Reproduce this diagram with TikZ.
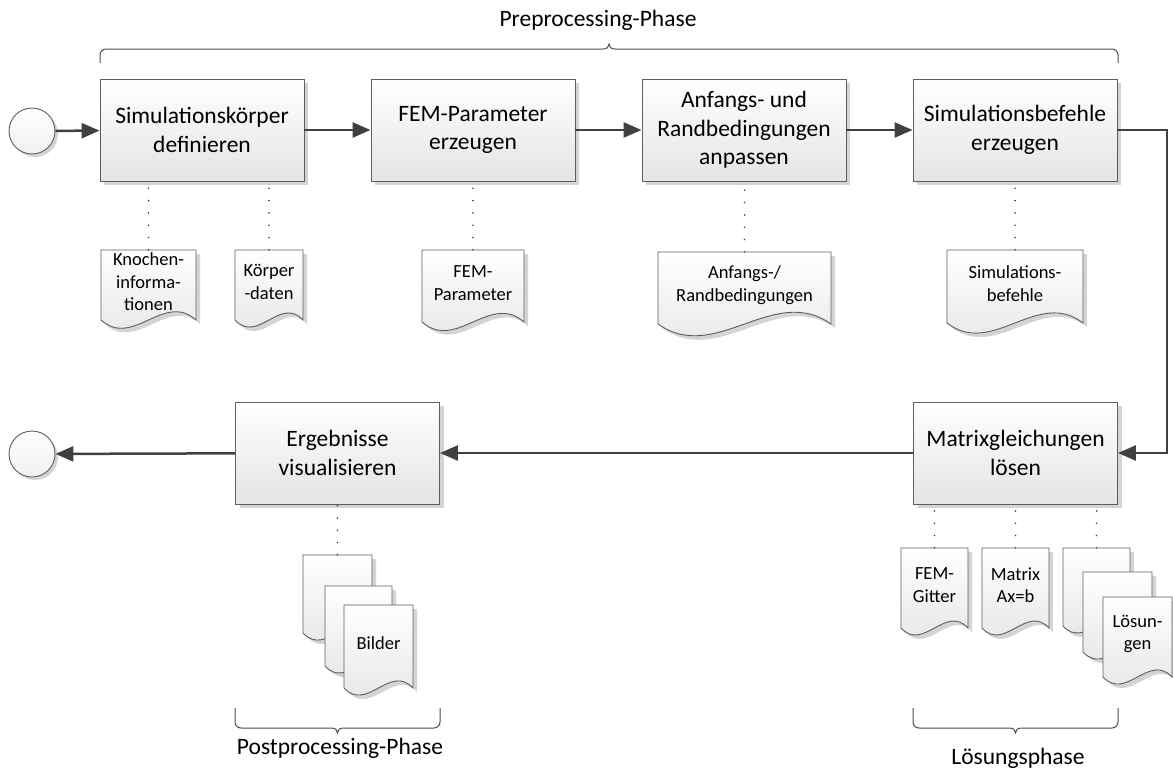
\documentclass[tikz,border=0pt]{standalone}
\usepackage{fontspec}
\setmainfont{Carlito}
\usetikzlibrary{arrows.meta,shadows,calc}
\definecolor{arrowcol}{HTML}{404040}
\definecolor{edgecol}{HTML}{5E5E5E}
\definecolor{shadowcol}{HTML}{D4D4D4}
\definecolor{fillbottom}{HTML}{E4E4E4}
\tikzset{
  procbox/.style={draw=edgecol, line width=0.9pt, top color=white, bottom color=fillbottom,
    minimum width=204pt, minimum height=102pt, inner sep=0pt, align=center,
    font=\fontsize{23.5}{28.7}\selectfont,
    drop shadow={shadow xshift=4pt, shadow yshift=-4pt, fill=shadowcol, opacity=1}},
  termcirc/.style={circle, draw=edgecol, line width=0.9pt, top color=white, bottom color=white!94!black,
    minimum size=46pt, inner sep=0pt,
    drop shadow={shadow xshift=3pt, shadow yshift=-3pt, fill=shadowcol, opacity=1}},
  flow/.style={draw=arrowcol, line width=2.5pt, -{Triangle[length=18pt,width=15pt]}},
  dotline/.style={draw=black!75, line width=1.8pt, line cap=round, dash pattern=on 0pt off 12.3pt},
  docbody/.style={draw=edgecol, line width=0.9pt, top color=white, bottom color=fillbottom},
  docshadow/.style={fill=shadowcol},
  doctext/.style={inner sep=0pt, align=center, font=\fontsize{18.5}{22.6}\selectfont},
  bracestyle/.style={draw=black!70, line width=1pt},
  phase/.style={font=\fontsize{23.5}{28.7}\selectfont, inner sep=0pt}
}
\newcommand\docshape[6]{%
  \pgfmathsetmacro\dw{#4-#2}%
  \pgfmathsetmacro\kk{3.46*(4+0.045*\dw)}%
  \fill[docshadow] ({#2+4},{#3+4}) -- ({#4+4},{#3+4}) -- ({#4+4},{#5+4})
     .. controls ({#4+4-\dw/3},{#5+4-\kk}) and ({#2+4+\dw/3},{#5+4+\kk}) .. ({#2+4},{#5+4}) -- cycle;
  \path[docbody] (#2,#3) -- (#4,#3) -- (#4,#5)
     .. controls ({#4-\dw/3},{#5-\kk}) and ({#2+\dw/3},{#5+\kk}) .. (#2,#5) -- cycle;
  \node[doctext, minimum width={\dw*1pt}, minimum height={(#5-#3-6)*1pt}] (#1) at ({(#2+#4)/2},{(#3+#5-6)/2}) {#6};
}
\begin{document}
\begin{tikzpicture}[x=1pt,y=-1pt]
\useasboundingbox (0,0) rectangle (1173,771);

% process boxes
\node[procbox] (b1) at (202,130) {Simulationskörper\\definieren};
\node[procbox] (b2) at (473,130) {FEM-Parameter\\erzeugen};
\node[procbox] (b3) at (744,130) {Anfangs- und\\Randbedingungen\\anpassen};
\node[procbox] (b4) at (1015,130) {Simulationsbefehle\\erzeugen};
\node[procbox] (b5) at (1015.5,453) {Matrixgleichungen\\lösen};
\node[procbox] (b6) at (337.5,453) {Ergebnisse\\visualisieren};

% terminals
\node[termcirc] (start) at (32,131) {};
\node[termcirc] (end) at (32,454) {};

% flow arrows
\coordinate (rx) at (1167,0);
\draw[flow] (start) -- (b1);
\draw[flow] (b1) -- (b2);
\draw[flow] (b2) -- (b3);
\draw[flow] (b3) -- (b4);
\draw[flow] (b4.east) -- (b4.east -| rx) |- (b5.east);
\draw[flow] (b5) -- (b6);
\draw[flow] (b6) -- (end);

% documents, top row
\docshape{d1}{101}{250}{196}{320}{Knochen-\\informa-\\tionen}
\docshape{d2}{235}{250}{303}{320}{Körper\\-daten}
\docshape{d3}{422}{250}{524}{322}{FEM-\\Parameter}
\docshape{d4}{658}{252}{831}{324}{Anfangs-/\\Randbedingungen}
\docshape{d5}{947}{250}{1083}{323}{Simulations-\\befehle}

% documents, bottom row
\docshape{g1}{901}{548}{968}{628}{FEM-\\Gitter}
\docshape{g2}{982}{548}{1049}{628}{Matrix\\Ax=b}
\docshape{l1}{1063}{548}{1130}{626}{}
\docshape{l2}{1083}{572}{1152}{652}{}
\docshape{l3}{1103}{597}{1172}{677}{Lösun-\\gen}
\docshape{p1}{303}{555}{372}{633}{}
\docshape{p2}{325}{586}{392}{666}{}
\docshape{p3}{344}{605}{413}{688}{Bilder}

% dotted associations
\draw[dotline] (d1.north) -- (d1.north |- b1.south);
\draw[dotline] (d2.north) -- (d2.north |- b1.south);
\draw[dotline] (d3.north) -- (d3.north |- b2.south);
\draw[dotline] (d4.north) -- (d4.north |- b3.south);
\draw[dotline] (d5.north) -- (d5.north |- b4.south);
\draw[dotline] (g1.north) -- (g1.north |- b5.south);
\draw[dotline] (g2.north) -- (g2.north |- b5.south);
\draw[dotline] (l1.north) -- (l1.north |- b5.south);
\draw[dotline] (p1.north) -- (p1.north |- b6.south);

% braces
\draw[bracestyle, rounded corners=6pt] (100,63) |- (603,49);
\draw[bracestyle] (603,49) .. controls (607,49) and (609,47) .. (609,44) .. controls (609,47) and (611,49) .. (615,49);
\draw[bracestyle, rounded corners=6pt] (615,49) -| (1118,63);

\draw[bracestyle, rounded corners=6pt] (913,708) |- (1009.5,728);
\draw[bracestyle] (1009.5,728) .. controls (1013.5,728) and (1015.5,730) .. (1015.5,733) .. controls (1015.5,730) and (1017.5,728) .. (1021.5,728);
\draw[bracestyle, rounded corners=6pt] (1021.5,728) -| (1118,708);

\draw[bracestyle, rounded corners=6pt] (235,708) |- (331.5,728);
\draw[bracestyle] (331.5,728) .. controls (335.5,728) and (337.5,730) .. (337.5,733) .. controls (337.5,730) and (339.5,728) .. (343.5,728);
\draw[bracestyle, rounded corners=6pt] (343.5,728) -| (440,708);

% phase labels
\node[phase] (pre) at (598,20) {Preprocessing-Phase};
\node[phase] (post) at (340,748) {Postprocessing-Phase};
\node[phase] (sol) at (1018,758) {Lösungsphase};
\end{tikzpicture}
\end{document}
